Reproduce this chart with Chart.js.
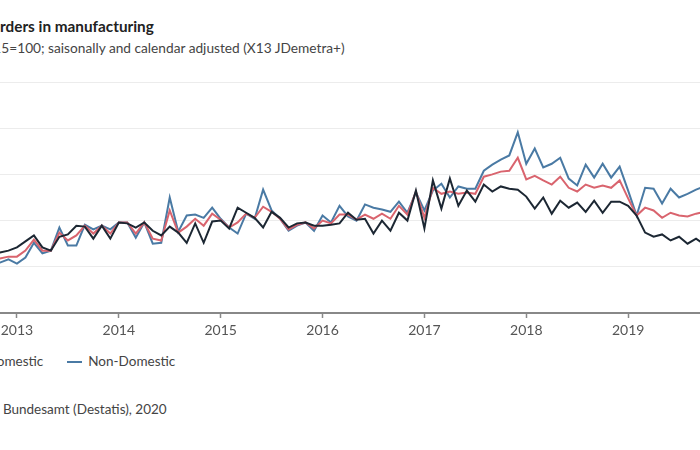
<!DOCTYPE html>
<html>
<head>
<meta charset="utf-8">
<script src="https://cdn.jsdelivr.net/npm/chart.js@4.4.0/dist/chart.umd.min.js"></script>
<style>
  html, body { margin: 0; padding: 0; background: #fff; }
  body { width: 700px; height: 450px; overflow: hidden; position: relative; font-family: Lato, sans-serif; }
  .txt { position: absolute; white-space: nowrap; }
  #title { top: 17px; font: bold 15.3px/18px Lato, sans-serif; color: #222; }
  #subtitle { top: 40px; font: 13.7px/16px Lato, sans-serif; color: #444; }
  #legend { top: 353px; font: 13.5px/17px Lato, sans-serif; color: #444; display: flex; align-items: center; }
  #legend .item { display: flex; align-items: center; margin-right: 24px; }
  #legend .swatch { width: 15px; height: 2px; margin-right: 6px; }
  #source { top: 401px; font: 13.5px/17px Lato, sans-serif; color: #444; }
  #chart { position: absolute; left: -84px; top: 70px; }
</style>
</head>
<body>
<div id="title" class="txt"><span id="titleCut">New o</span>rders in manufacturing</div>
<div id="subtitle" class="txt"><span id="subCut">Index 201</span>5=100; saisonally and calendar adjusted (X13 JDemetra+)</div>
<canvas id="chart" width="824" height="280"></canvas>
<div id="legend" class="txt"></div>
<div id="source" class="txt"><span id="srcCut">© Statistisches </span>Bundesamt (Destatis), 2020</div>
<script>
// monthly values, Jul 2012 - Dec 2019 (2015 = 100)
const firstYear = 2012;
const firstMonth = 7;
const yearTicks = [2013, 2014, 2015, 2016, 2017, 2018, 2019];

const total = [
  92.2, 91.3, 91.8, 91.6, 91.8, 92.2,
  92.2, 93.5, 95.9, 93.5, 93.5, 97.4, 95.7, 96.8, 98.9, 97.2, 98.9, 97.2,
  99.6, 99.6, 97.2, 99.6, 96.1, 95.7, 102.2, 97.4, 98.7, 100.4, 98.9, 101.5,
  100.2, 98.5, 99.6, 101.5, 100.6, 103.0, 101.9, 100.4, 98.1, 99.1, 99.6, 98.3,
  100.0, 99.4, 101.3, 101.3, 100.2, 101.3, 100.4, 101.5, 100.4, 103.2, 101.3, 106.3,
  100.6, 107.1, 105.8, 106.3, 105.8, 106.1, 105.8, 109.5, 110.0, 110.6, 110.8, 113.6,
  108.9, 109.7, 108.7, 107.8, 109.5, 107.1, 106.3, 107.8, 107.1, 107.6, 107.1, 108.7,
  104.8, 101.1, 102.8, 102.2, 100.6, 101.7, 101.1, 100.9, 101.5, 101.9, 101.5, 101.7
];
const domestic = [
  93.5, 92.4, 92.9, 92.6, 93.1, 93.5,
  94.2, 95.5, 96.8, 94.2, 93.5, 96.5, 97.0, 98.9, 98.7, 96.1, 98.9, 96.1,
  99.6, 99.4, 98.5, 99.6, 97.8, 96.8, 98.7, 97.4, 95.2, 99.4, 95.2, 99.8,
  100.0, 98.3, 102.8, 101.7, 100.6, 98.5, 101.9, 100.6, 98.5, 99.4, 99.6, 98.9,
  98.9, 99.1, 99.4, 101.7, 100.2, 100.4, 97.2, 100.0, 97.8, 101.7, 100.0, 106.5,
  98.3, 108.7, 102.6, 109.1, 103.2, 106.5, 104.1, 107.8, 106.3, 107.4, 106.9, 106.7,
  105.2, 102.6, 105.0, 101.5, 104.3, 102.8, 103.9, 101.9, 104.3, 101.7, 104.1, 104.1,
  103.2, 101.1, 97.4, 96.5, 97.0, 95.7, 96.5, 95.0, 96.1, 94.8, 95.7, 95.0
];
const nonDomestic = [
  91.3, 90.5, 90.9, 90.7, 90.9, 91.6,
  90.7, 92.0, 95.2, 92.9, 93.5, 98.5, 94.6, 94.6, 99.1, 98.1, 98.9, 98.1,
  99.6, 99.6, 96.3, 99.6, 95.0, 95.2, 105.0, 97.6, 101.1, 101.3, 100.6, 102.8,
  100.4, 98.5, 97.2, 101.5, 100.4, 106.7, 102.2, 100.4, 97.8, 98.9, 99.6, 97.8,
  101.1, 99.6, 103.2, 100.9, 100.0, 103.5, 102.8, 102.4, 101.9, 104.1, 101.7, 106.1,
  102.2, 106.5, 108.0, 105.0, 107.4, 106.9, 106.9, 110.8, 112.1, 113.2, 114.1, 119.1,
  112.3, 115.6, 111.5, 112.3, 113.6, 109.1, 107.6, 112.1, 109.3, 112.3, 109.3, 111.7,
  106.5, 101.1, 107.1, 106.9, 103.7, 106.9, 105.0, 105.8, 106.7, 107.4, 106.7, 107.1
];

// month positions as decimal years (Jan = year.0)
const monthX = total.map((_, i) => firstYear + (firstMonth - 1 + i) / 12);
const toPoints = values => values.map((v, i) => ({ x: monthX[i], y: v }));

const FONT = 'Lato, sans-serif';

const chart = new Chart(document.getElementById('chart'), {
  type: 'line',
  data: {
    datasets: [
      { label: 'Total', data: toPoints(total), borderColor: '#d9646e', borderWidth: 2, order: 1 },
      { label: 'Domestic', data: toPoints(domestic), borderColor: '#1c2733', borderWidth: 2, order: 0 },
      { label: 'Non-Domestic', data: toPoints(nonDomestic), borderColor: '#4a7aa4', borderWidth: 2, order: 2 }
    ]
  },
  options: {
    responsive: false,
    animation: false,
    elements: { point: { radius: 0 }, line: { tension: 0 } },
    layout: { padding: { left: 10, right: 10, top: 12, bottom: 7 } },
    plugins: { legend: { display: false }, tooltip: { enabled: false } },
    scales: {
      x: {
        type: 'linear',
        min: 2012.5,
        max: 2020,
        afterBuildTicks: s => { s.ticks = yearTicks.map(v => ({ value: v })); },
        afterFit: s => { s.height = 30; },
        ticks: { callback: v => String(v), color: '#555', font: { family: FONT, size: 14 }, padding: 4, maxRotation: 0, autoSkip: false },
        grid: { drawOnChartArea: false, drawTicks: true, tickLength: 5, tickColor: '#888', tickWidth: 1.5 },
        border: { color: '#888', width: 2 }
      },
      y: {
        min: 80,
        max: 130,
        afterFit: s => { s.width = 40; },
        ticks: { stepSize: 10, color: '#555', font: { family: FONT, size: 14 } },
        grid: { color: '#ececec', lineWidth: 1, drawTicks: false },
        border: { display: false }
      }
    }
  }
});

// html legend, built from the datasets
const legendEl = document.getElementById('legend');
let anchor = null;
chart.data.datasets.forEach(ds => {
  const item = document.createElement('span');
  item.className = 'item';
  const sw = document.createElement('span');
  sw.className = 'swatch';
  sw.style.background = ds.borderColor;
  const lab = document.createElement('span');
  lab.textContent = ds.label;
  item.appendChild(sw);
  item.appendChild(lab);
  legendEl.appendChild(item);
  if (ds.label === 'Non-Domestic') anchor = sw;
});
legendEl.style.left = '0px';
legendEl.style.left = (67 - anchor.offsetLeft) + 'px';

// the picture is cropped on the left: shift texts so the visible part starts at the edge
document.getElementById('title').style.left = (0 - document.getElementById('titleCut').offsetWidth) + 'px';
document.getElementById('subtitle').style.left = (1 - document.getElementById('subCut').offsetWidth) + 'px';
document.getElementById('source').style.left = (3 - document.getElementById('srcCut').offsetWidth) + 'px';
</script>
</body>
</html>
